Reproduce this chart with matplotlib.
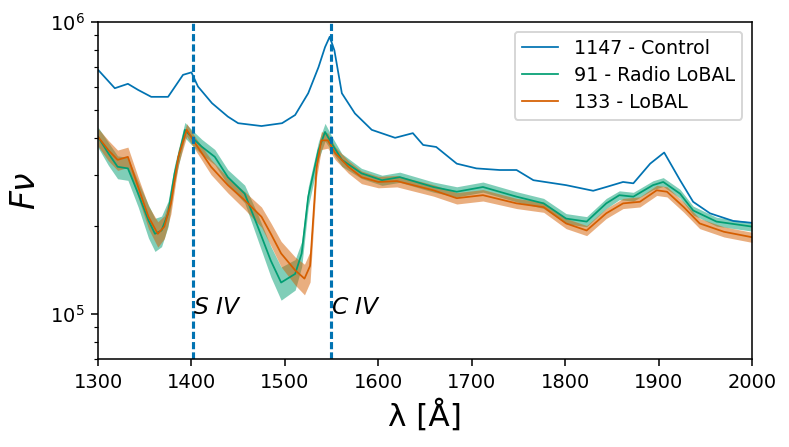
import numpy as np
import matplotlib
matplotlib.use("Agg")
import matplotlib.pyplot as plt
from matplotlib.ticker import NullFormatter

# ---- data (flux in units of 1e5) ----
wl_ctrl = [1300, 1318, 1332, 1343, 1357, 1375, 1391, 1400, 1407, 1422, 1439, 1450,
           1475, 1497, 1511, 1525, 1536, 1543, 1548, 1553, 1561, 1575, 1593, 1618,
           1637, 1648, 1662, 1684, 1705, 1730, 1748, 1766, 1801, 1830, 1844, 1862,
           1873, 1891, 1906, 1923, 1937, 1955, 1980, 2000]
fl_ctrl = [6.86, 5.93, 6.14, 5.85, 5.54, 5.54, 6.59, 6.72, 6.01, 5.27, 4.74, 4.50,
           4.40, 4.50, 4.80, 5.70, 7.00, 8.20, 8.90, 8.00, 5.70, 4.86, 4.27, 4.01,
           4.16, 3.79, 3.73, 3.27, 3.15, 3.11, 3.11, 2.87, 2.76, 2.64, 2.72, 2.83,
           2.80, 3.27, 3.57, 2.87, 2.42, 2.21, 2.08, 2.05]

wl_rl = [1300, 1311, 1321, 1332, 1343, 1354, 1361, 1368, 1375, 1382, 1393, 1400,
         1411, 1425, 1439, 1457, 1471, 1485, 1496, 1511, 1518, 1525, 1536, 1543,
         1550, 1561, 1582, 1604, 1623, 1659, 1684, 1712, 1748, 1777, 1801, 1823,
         1844, 1858, 1873, 1894, 1905, 1923, 1937, 1962, 2000]
fl_rl = [4.04, 3.55, 3.19, 3.15, 2.58, 2.09, 1.88, 1.93, 2.21, 3.03, 4.27, 4.04,
         3.74, 3.45, 2.94, 2.58, 1.99, 1.52, 1.28, 1.37, 1.61, 2.52, 3.64, 4.20,
         3.84, 3.37, 3.03, 2.87, 2.94, 2.72, 2.62, 2.72, 2.52, 2.39, 2.12, 2.07,
         2.39, 2.55, 2.52, 2.76, 2.83, 2.58, 2.26, 2.07, 1.99]
err_rl = [0.08, 0.09, 0.09, 0.09, 0.10, 0.13, 0.13, 0.12, 0.10, 0.07, 0.06, 0.06,
          0.06, 0.06, 0.06, 0.07, 0.10, 0.12, 0.13, 0.12, 0.10, 0.08, 0.07, 0.07,
          0.06, 0.05, 0.04, 0.04, 0.04, 0.04, 0.04, 0.04, 0.04, 0.04, 0.04, 0.04,
          0.04, 0.035, 0.035, 0.035, 0.035, 0.035, 0.035, 0.035, 0.035]

wl_lo = [1300, 1311, 1321, 1332, 1343, 1354, 1364, 1371, 1378, 1386, 1395, 1404,
         1421, 1439, 1457, 1475, 1485, 1496, 1511, 1521, 1527, 1534, 1539, 1546,
         1554, 1568, 1582, 1600, 1620, 1659, 1684, 1712, 1748, 1777, 1801, 1823,
         1844, 1862, 1880, 1898, 1909, 1927, 1944, 1970, 2000]
fl_lo = [4.04, 3.64, 3.37, 3.45, 2.72, 2.15, 1.88, 1.99, 2.39, 3.45, 4.27, 3.84,
         3.19, 2.76, 2.45, 2.15, 1.88, 1.61, 1.41, 1.32, 1.46, 3.19, 3.93, 3.93,
         3.55, 3.19, 2.94, 2.83, 2.85, 2.65, 2.49, 2.55, 2.39, 2.32, 2.04, 1.93,
         2.21, 2.39, 2.42, 2.65, 2.62, 2.32, 2.04, 1.91, 1.83]
err_lo = [0.07, 0.08, 0.08, 0.08, 0.08, 0.09, 0.10, 0.09, 0.08, 0.06, 0.05, 0.05,
          0.06, 0.06, 0.07, 0.08, 0.09, 0.10, 0.11, 0.12, 0.12, 0.08, 0.07, 0.06,
          0.05, 0.05, 0.05, 0.045, 0.045, 0.045, 0.045, 0.045, 0.04, 0.04, 0.04, 0.04,
          0.04, 0.04, 0.04, 0.04, 0.04, 0.04, 0.04, 0.04, 0.04]

labels = ["1147 - Control", "91 - Radio LoBAL", "133 - LoBAL"]
line_wl = [1402, 1549]
line_names = ["$S\\ IV$", "$C\\ IV$"]

c_blue = "#0173b2"
c_green = "#029e73"
c_orange = "#d55e00"

fig = plt.figure(figsize=(789 / 140, 447 / 140), dpi=140)
ax = fig.add_axes([98 / 789, 1 - 359 / 447, 654 / 789, 337 / 447])

def arr(v):
    return np.asarray(v, dtype=float)

ax.plot(arr(wl_ctrl), arr(fl_ctrl) * 1e5, color=c_blue, lw=0.9, label=labels[0])

y = arr(fl_rl) * 1e5
e = arr(err_rl)
ax.fill_between(arr(wl_rl), y * (1 - e), y * (1 + e), color=c_green, alpha=0.5, lw=0)
ax.plot(arr(wl_rl), y, color=c_green, lw=0.9, label=labels[1])

y = arr(fl_lo) * 1e5
e = arr(err_lo)
ax.fill_between(arr(wl_lo), y * (1 - e), y * (1 + e), color=c_orange, alpha=0.5, lw=0)
ax.plot(arr(wl_lo), y, color=c_orange, lw=0.9, label=labels[2])

for w, name in zip(line_wl, line_names):
    ax.axvline(w, color=c_blue, lw=1.6, linestyle=(0, (2.3, 1.0)))
    ax.text(w, 1.0e5, name, fontsize=12, ha="left", va="baseline")

ax.set_yscale("log")
ax.set_xlim(1300, 2000)
ax.set_ylim(7e4, 1e6)
ax.yaxis.set_minor_formatter(NullFormatter())
ax.set_xlabel("λ [Å]", fontsize=16)
ax.set_ylabel("$F\\nu$", fontsize=17)
ax.legend(loc="upper right", fontsize=9.8, labelspacing=0.42, handlelength=1.9)

fig.savefig("out.png", dpi=140)
